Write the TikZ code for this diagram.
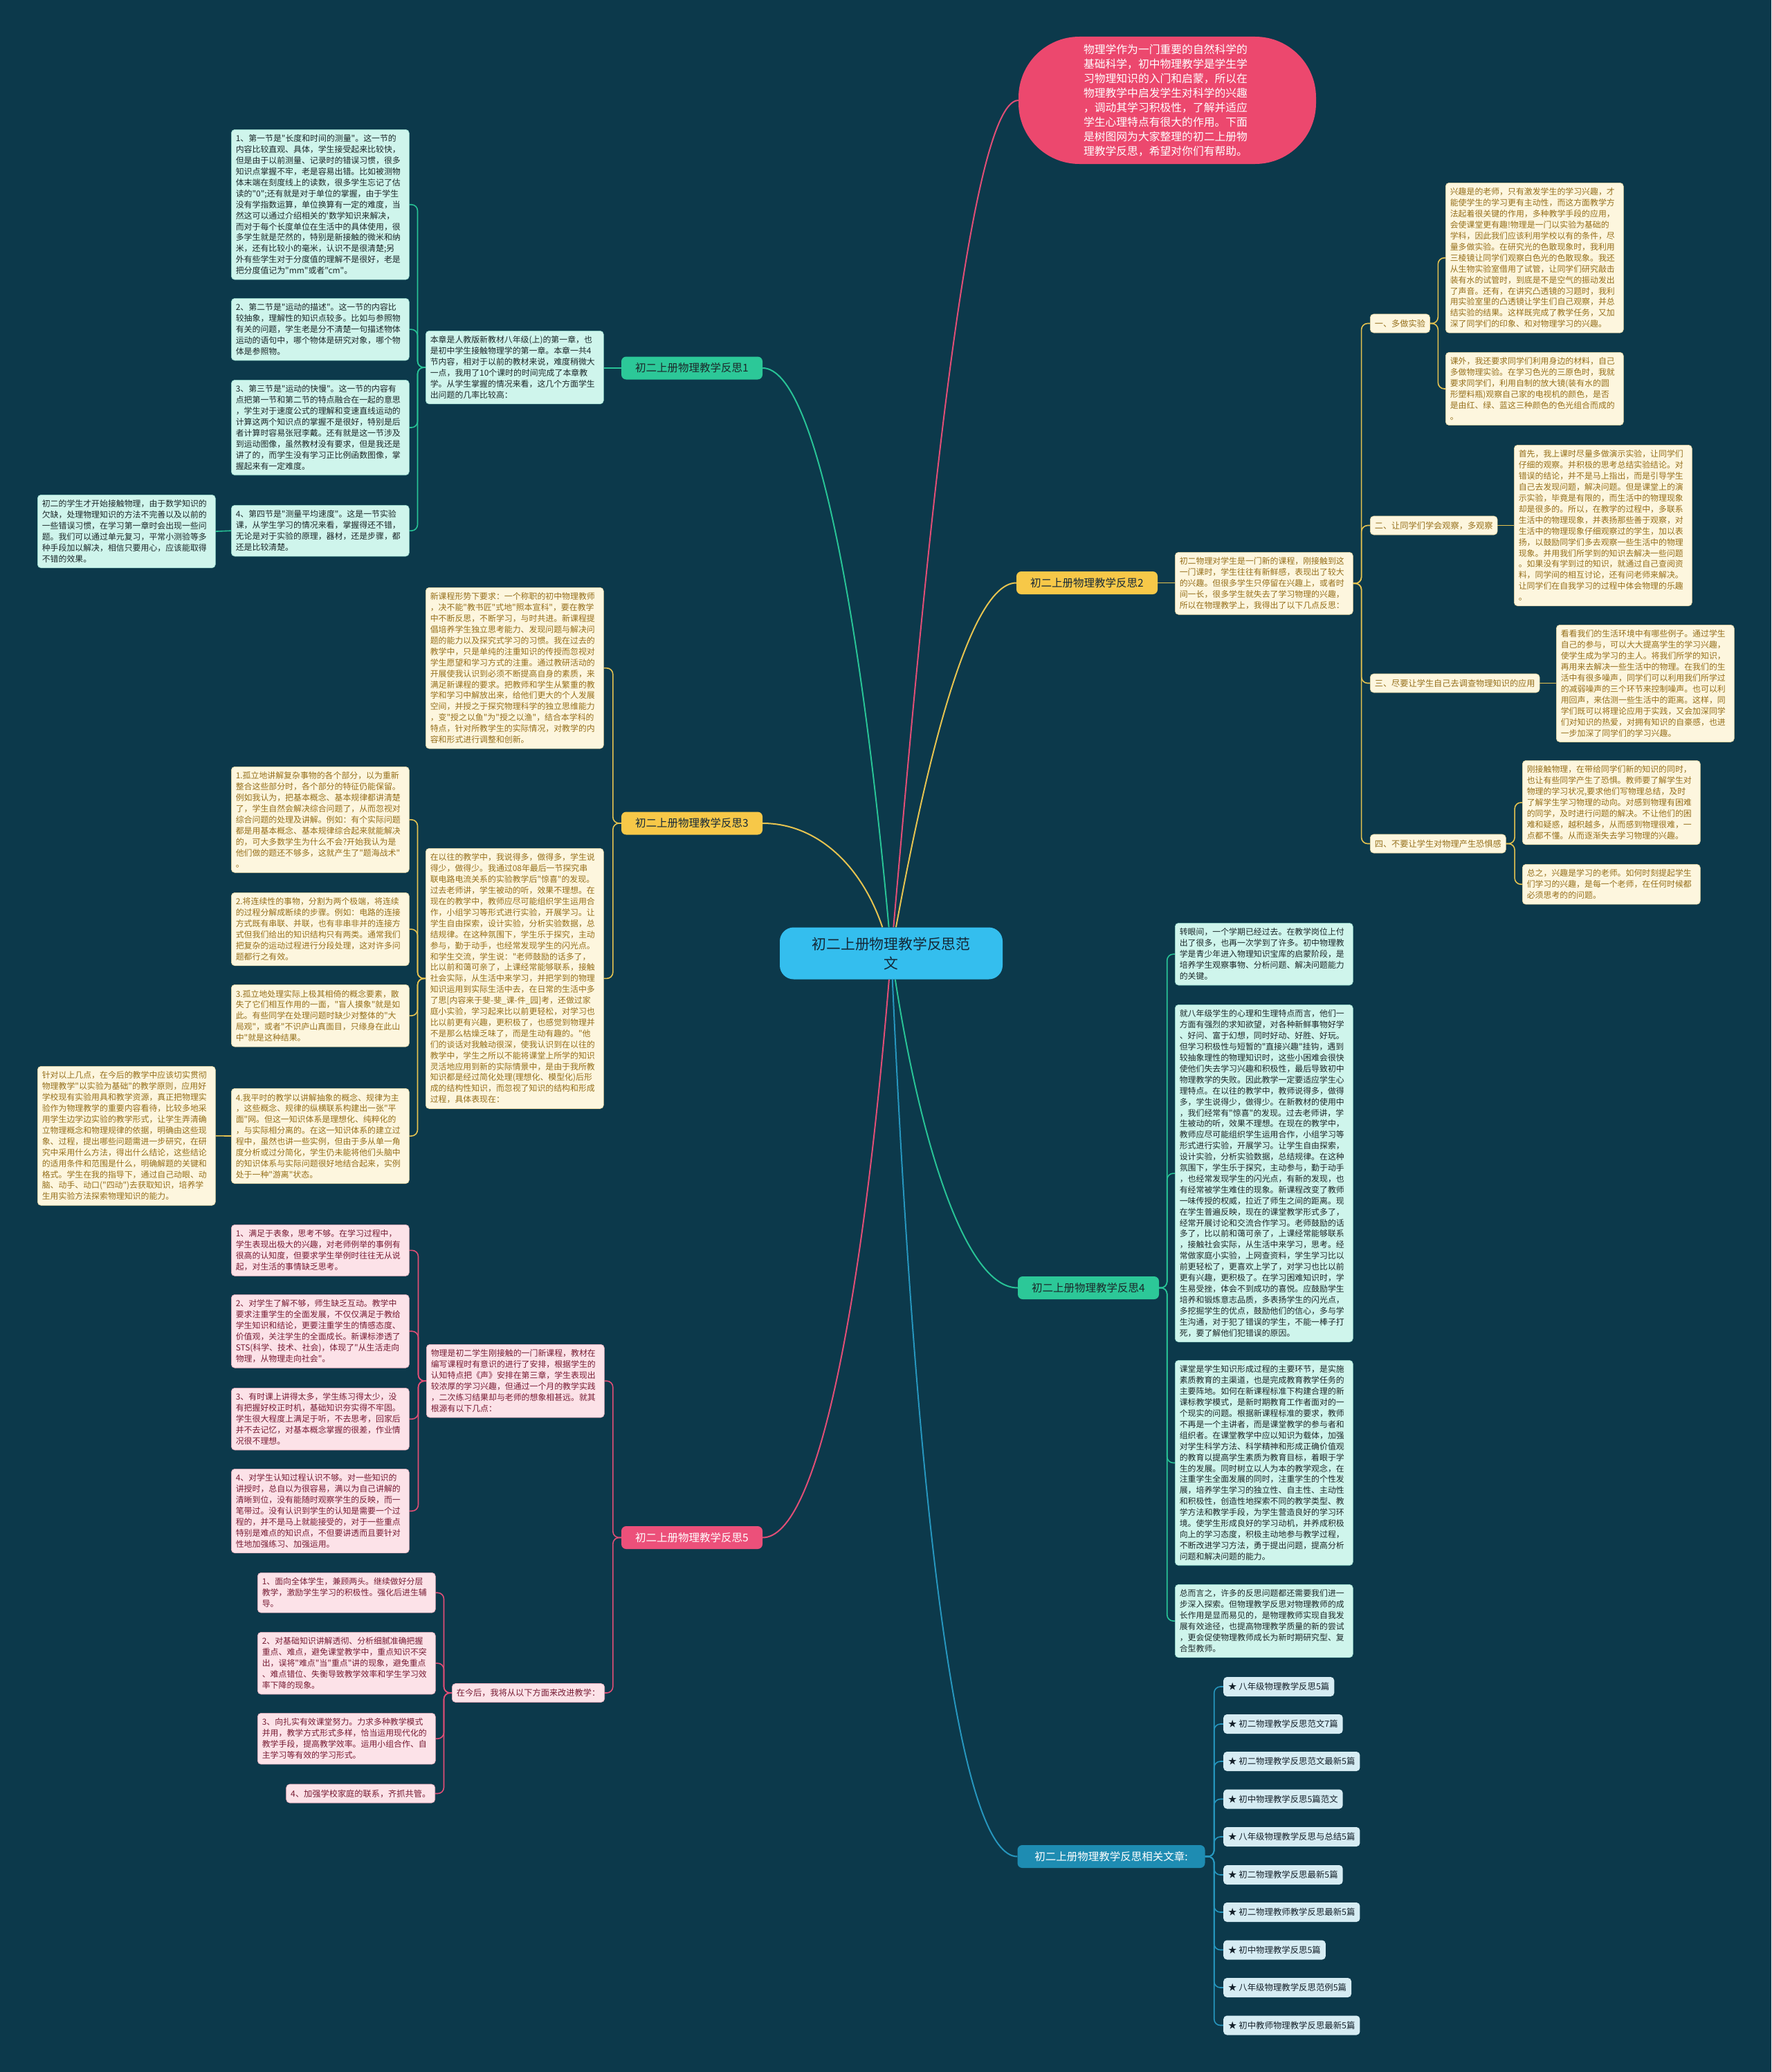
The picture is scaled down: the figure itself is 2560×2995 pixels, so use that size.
\documentclass[tikz,border=0pt]{standalone}
\usepackage{fontspec}
\setmainfont{Noto Sans CJK SC}[Ligatures=TeXOff]
\pgfdeclarelayer{bg}
\pgfdeclarelayer{edges}
\pgfsetlayers{bg,edges,main}
\definecolor{bgc}{RGB}{12,57,75}
\definecolor{mintf}{RGB}{207,245,236}
\definecolor{mintd}{RGB}{150,220,205}
\definecolor{minttx}{RGB}{28,40,42}
\definecolor{creamf}{RGB}{253,246,222}
\definecolor{creamd}{RGB}{235,215,160}
\definecolor{creamtx}{RGB}{150,112,28}
\definecolor{pinkf}{RGB}{252,226,232}
\definecolor{pinkd}{RGB}{235,170,185}
\definecolor{pinktx}{RGB}{120,28,52}
\definecolor{itemf}{RGB}{214,236,243}
\definecolor{itemtx}{RGB}{20,32,42}
\definecolor{greenl}{RGB}{40,195,150}
\definecolor{greenlab}{RGB}{44,200,152}
\definecolor{yell}{RGB}{230,195,80}
\definecolor{yellab}{RGB}{247,200,72}
\definecolor{pinkl}{RGB}{225,78,118}
\definecolor{pinklab}{RGB}{236,80,122}
\definecolor{bluel}{RGB}{38,150,190}
\definecolor{bluelab}{RGB}{30,140,178}
\definecolor{introc}{RGB}{236,72,110}
\definecolor{rootc}{RGB}{52,190,238}
\definecolor{roottx}{RGB}{20,40,55}
\begin{document}
\begin{tikzpicture}[x=1pt,y=1pt,
  tbox/.style={rectangle, rounded corners=5pt, inner xsep=6.5pt, inner ysep=7.5pt, text width=244pt, align=left, anchor=north west, line width=0.6pt, font=\fontsize{11.9}{15.9}\selectfont},
  mbox/.style={tbox, fill=mintf, draw=mintd, text=minttx},
  cbox/.style={tbox, fill=creamf, draw=creamd, text=creamtx},
  pbox/.style={tbox, fill=pinkf, draw=pinkd, text=pinktx},
  slab/.style={rectangle, rounded corners=5pt, inner xsep=6.5pt, inner ysep=0pt, minimum height=27pt, anchor=west, line width=0.6pt, font=\fontsize{12.2}{15}\selectfont},
  clab/.style={slab, fill=creamf, draw=creamd, text=creamtx},
  plab/.style={slab, fill=pinkf, draw=pinkd, text=pinktx},
  item/.style={rectangle, rounded corners=5pt, inner xsep=7pt, inner ysep=0pt, minimum height=28pt, anchor=west, fill=itemf, text=itemtx, font=\fontsize{12.4}{15}\selectfont},
  blab/.style={rectangle, rounded corners=7pt, inner xsep=10pt, inner ysep=0pt, minimum height=33pt, minimum width=204pt, font=\fontsize{15.5}{18}\selectfont},
  gl/.style={draw=greenl, line width=2pt},
  yl/.style={draw=yell, line width=2pt},
  pl/.style={draw=pinkl, line width=2pt},
  bl/.style={draw=bluel, line width=2pt},
  brk/.style={rounded corners=9pt, line width=1.6pt},
  str/.style={line width=1.6pt}
]
\begin{pgfonlayer}{bg}
\fill[bgc] (0,0) rectangle (2560,-2995);
\end{pgfonlayer}
\useasboundingbox (0,0) rectangle (2560,-2995);

% root and intro
\node[rectangle, rounded corners=20pt, fill=rootc, text=roottx, minimum width=322pt, minimum height=75pt, align=center, font=\fontsize{20.8}{28}\selectfont] (root) at (1288,-1378) {初二上册物理教学反思范\\文};
\node[rectangle, rounded corners=88pt, fill=introc, text=white, minimum width=430pt, minimum height=184pt, inner sep=0pt, text width=242pt, align=left, font=\fontsize{15.8}{20.9}\selectfont] (intro) at (1687,-145) {物理学作为一门重要的自然科学的\\基础科学，初中物理教学是学生学\\习物理知识的入门和启蒙，所以在\\物理教学中启发学生对科学的兴趣\\，调动其学习积极性，了解并适应\\学生心理特点有很大的作用。下面\\是树图网为大家整理的初二上册物\\理教学反思，希望对你们有帮助。};

% branch labels
\node[blab, fill=greenlab, text=minttx] (b1) at (1000,-532) {初二上册物理教学反思1};
\node[blab, fill=yellab, text=roottx] (b2) at (1571,-842.5) {初二上册物理教学反思2};
\node[blab, fill=yellab, text=roottx] (b3) at (1000,-1190) {初二上册物理教学反思3};
\node[blab, fill=greenlab, text=minttx] (b4) at (1573,-1861.5) {初二上册物理教学反思4};
\node[blab, fill=pinklab, text=white] (b5) at (1000,-2222.5) {初二上册物理教学反思5};
\node[blab, fill=bluelab, text=white, minimum width=271pt] (b6) at (1606,-2683.5) {初二上册物理教学反思相关文章:};

% ---------- branch 1 ----------
\node[mbox] (b1m) at (615,-478) {本章是人教版新教材八年级(上)的第一章，也\\是初中学生接触物理学的第一章。本章一共4\\节内容，相对于以前的教材来说，难度稍微大\\一点，我用了10个课时的时间完成了本章教\\学。从学生掌握的情况来看，这几个方面学生\\出问题的几率比较高：};
\node[mbox] (b1a) at (334,-187) {1、第一节是"长度和时间的测量"。这一节的\\内容比较直观、具体，学生接受起来比较快，\\但是由于以前测量、记录时的错误习惯，很多\\知识点掌握不牢，老是容易出错。比如被测物\\体末端在刻度线上的读数，很多学生忘记了估\\读的"0";还有就是对于单位的掌握，由于学生\\没有学指数运算，单位换算有一定的难度，当\\然这可以通过介绍相关的'数学知识来解决，\\而对于每个长度单位在生活中的具体使用，很\\多学生就是茫然的，特别是新接触的微米和纳\\米，还有比较小的毫米，认识不是很清楚;另\\外有些学生对于分度值的理解不是很好，老是\\把分度值记为"mm"或者"cm"。};
\node[mbox] (b1b) at (334,-431) {2、第二节是"运动的描述"。这一节的内容比\\较抽象，理解性的知识点较多。比如与参照物\\有关的问题，学生老是分不清楚一句描述物体\\运动的语句中，哪个物体是研究对象，哪个物\\体是参照物。};
\node[mbox] (b1c) at (334,-549) {3、第三节是"运动的快慢"。这一节的内容有\\点把第一节和第二节的特点融合在一起的意思\\，学生对于速度公式的理解和变速直线运动的\\计算这两个知识点的掌握不是很好，特别是后\\者计算时容易张冠李戴。还有就是这一节涉及\\到运动图像，虽然教材没有要求，但是我还是\\讲了的，而学生没有学习正比例函数图像，掌\\握起来有一定难度。};
\node[mbox] (b1d) at (334,-730) {4、第四节是"测量平均速度"。这是一节实验\\课，从学生学习的情况来看，掌握得还不错，\\无论是对于实验的原理，器材，还是步骤，都\\还是比较清楚。};
\node[mbox] (fl1) at (54,-715) {初二的学生才开始接触物理，由于数学知识的\\欠缺，处理物理知识的方法不完善以及以前的\\一些错误习惯，在学习第一章时会出现一些问\\题。我们可以通过单元复习，平常小测验等多\\种手段加以解决，相信只要用心，应该能取得\\不错的效果。};

% ---------- branch 2 ----------
\node[cbox] (b2m) at (1698,-798) {初二物理对学生是一门新的课程，刚接触到这\\一门课时，学生往往有新鲜感，表现出了较大\\的兴趣。但很多学生只停留在兴趣上，或者时\\间一长，很多学生就失去了学习物理的兴趣，\\所以在物理教学上，我得出了以下几点反思：};
\node[clab] (s1) at (1980,-467.5) {一、多做实验};
\node[clab] (s2) at (1980,-759.5) {二、让同学们学会观察，多观察};
\node[clab] (s3) at (1980,-987.5) {三、尽要让学生自己去调查物理知识的应用};
\node[clab] (s4) at (1980,-1219.5) {四、不要让学生对物理产生恐惧感};
\node[cbox] (r1) at (2089,-264) {兴趣是的老师，只有激发学生的学习兴趣，才\\能使学生的学习更有主动性，而这方面教学方\\法起着很关键的作用，多种教学手段的应用，\\会使课堂更有趣!物理是一门以实验为基础的\\学科，因此我们应该利用学校以有的条件，尽\\量多做实验。在研究光的色散现象时，我利用\\三棱镜让同学们观察白色光的色散现象。我还\\从生物实验室借用了试管，让同学们研究敲击\\装有水的试管时，到底是不是空气的振动发出\\了声音。还有，在讲究凸透镜的习题时，我利\\用实验室里的凸透镜让学生们自己观察，并总\\结实验的结果。这样既完成了教学任务，又加\\深了同学们的印象、和对物理学习的兴趣。};
\node[cbox] (r2) at (2089,-509) {课外，我还要求同学们利用身边的材料，自己\\多做物理实验。在学习色光的三原色时，我就\\要求同学们，利用自制的放大镜(装有水的圆\\形塑料瓶)观察自己家的电视机的颜色，是否\\是由红、绿、蓝这三种颜色的色光组合而成的\\。};
\node[cbox] (r3) at (2188,-643) {首先，我上课时尽量多做演示实验，让同学们\\仔细的观察。并积极的思考总结实验结论。对\\错误的结论，并不是马上指出，而是引导学生\\自己去发现问题，解决问题。但是课堂上的演\\示实验，毕竟是有限的，而生活中的物理现象\\却是很多的。所以，在教学的过程中，多联系\\生活中的物理现象，并表扬那些善于观察，对\\生活中的物理现象仔细观察过的学生，加以表\\扬，以鼓励同学们多去观察一些生活中的物理\\现象。并用我们所学到的知识去解决一些问题\\。如果没有学到过的知识，就通过自己查阅资\\料，同学间的相互讨论，还有问老师来解决。\\让同学们在自我学习的过程中体会物理的乐趣\\。};
\node[cbox] (r4) at (2249,-903) {看看我们的生活环境中有哪些例子。通过学生\\自己的参与，可以大大提高学生的学习兴趣，\\使学生成为学习的主人。将我们所学的知识，\\再用来去解决一些生活中的物理。在我们的生\\活中有很多噪声，同学们可以利用我们所学过\\的减弱噪声的三个环节来控制噪声。也可以利\\用回声，来估测一些生活中的距离。这样，同\\学们既可以将理论应用于实践，又会加深同学\\们对知识的热爱，对拥有知识的自豪感，也进\\一步加深了同学们的学习兴趣。};
\node[cbox] (r5) at (2200,-1099) {刚接触物理，在带给同学们新的知识的同时，\\也让有些同学产生了恐惧。教师要了解学生对\\物理的学习状况,要求他们写物理总结，及时\\了解学生学习物理的动向。对感到物理有困难\\的同学，及时进行问题的解决。不让他们的困\\难和疑惑，越积越多，从而感到物理很难，一\\点都不懂。从而逐渐失去学习物理的兴趣。};
\node[cbox] (r6) at (2200,-1249) {总之，兴趣是学习的老师。如何时刻提起学生\\们学习的兴趣，是每一个老师，在任何时候都\\必须思考的的问题。};

% ---------- branch 3 ----------
\node[cbox] (b3t) at (615,-849) {新课程形势下要求：一个称职的初中物理教师\\，决不能"教书匠"式地"照本宣科"，要在教学\\中不断反思，不断学习，与时共进。新课程提\\倡培养学生独立思考能力、发现问题与解决问\\题的能力以及探究式学习的习惯。我在过去的\\教学中，只是单纯的注重知识的传授而忽视对\\学生愿望和学习方式的注重。通过教研活动的\\开展使我认识到必须不断提高自身的素质，来\\满足新课程的要求。把教师和学生从繁重的教\\学和学习中解放出来，给他们更大的个人发展\\空间，并授之于探究物理科学的独立思维能力\\，变"授之以鱼"为"授之以渔"，结合本学科的\\特点，针对所教学生的实际情况，对教学的内\\容和形式进行调整和创新。};
\node[cbox] (b3m) at (615,-1226) {在以往的教学中，我说得多，做得多，学生说\\得少，做得少。我通过08年最后一节探究串\\联电路电流关系的实验教学后"惊喜"的发现。\\过去老师讲，学生被动的听，效果不理想。在\\现在的教学中，教师应尽可能组织学生运用合\\作，小组学习等形式进行实验，开展学习。让\\学生自由探索，设计实验，分析实验数据，总\\结规律。在这种氛围下，学生乐于探究，主动\\参与，勤于动手，也经常发现学生的闪光点。\\和学生交流，学生说："老师鼓励的话多了，\\比以前和蔼可亲了，上课经常能够联系，接触\\社会实际，从生活中来学习，并把学到的物理\\知识运用到实际生活中去，在日常的生活中多\\了思{[}内容来于斐-斐\_课-件\_园{]}考，还做过家\\庭小实验，学习起来比以前更轻松，对学习也\\比以前更有兴趣，更积极了，也感觉到物理并\\不是那么枯燥乏味了，而是生动有趣的。"他\\们的谈话对我触动很深，使我认识到在以往的\\教学中，学生之所以不能将课堂上所学的知识\\灵活地应用到新的实际情景中，是由于我所教\\知识都是经过简化处理(理想化、模型化)后形\\成的结构性知识，而忽视了知识的结构和形成\\过程，具体表现在：};
\node[cbox] (b3a) at (334,-1108) {1.孤立地讲解复杂事物的各个部分，以为重新\\整合这些部分时，各个部分的特征仍能保留。\\例如我认为，把基本概念、基本规律都讲清楚\\了，学生自然会解决综合问题了，从而忽视对\\综合问题的处理及讲解。例如：有个实际问题\\都是用基本概念、基本规律综合起来就能解决\\的，可大多数学生为什么不会?开始我认为是\\他们做的题还不够多，这就产生了"题海战术"\\。};
\node[cbox] (b3b) at (334,-1290) {2.将连续性的事物，分割为两个极端，将连续\\的过程分解成断续的步骤。例如：电路的连接\\方式既有串联、并联，也有非串非并的连接方\\式但我们给出的知识结构只有两类。通常我们\\把复杂的运动过程进行分段处理，这对许多问\\题都行之有效。};
\node[cbox] (b3c) at (334,-1423) {3.孤立地处理实际上极其相倚的概念要素，散\\失了它们相互作用的一面，"盲人摸象"就是如\\此。有些同学在处理问题时缺少对整体的"大\\局观"，或者"不识庐山真面目，只缘身在此山\\中"就是这种结果。};
\node[cbox] (b3d) at (334,-1573) {4.我平时的教学以讲解抽象的概念、规律为主\\，这些概念、规律的纵横联系构建出一张"平\\面"网。但这一知识体系是理想化、纯粹化的\\，与实际相分离的。在这一知识体系的建立过\\程中，虽然也讲一些实例，但由于多从单一角\\度分析或过分简化，学生仍未能将他们头脑中\\的知识体系与实际问题很好地结合起来，实例\\处于一种"游离"状态。};
\node[cbox] (fl2) at (54,-1541) {针对以上几点，在今后的教学中应该切实贯彻\\物理教学"以实验为基础"的教学原则，应用好\\学校现有实验用具和教学资源，真正把物理实\\验作为物理教学的重要内容看待，比较多地采\\用学生边学边实验的教学形式，让学生弄清确\\立物理概念和物理规律的依据，明确由这些现\\象、过程，提出哪些问题需进一步研究，在研\\究中采用什么方法，得出什么结论，这些结论\\的适用条件和范围是什么，明确解题的关键和\\格式。学生在我的指导下，通过自己动眼、动\\脑、动手、动口("四动")去获取知识，培养学\\生用实验方法探索物理知识的能力。};

% ---------- branch 4 ----------
\node[mbox] (b4a) at (1698,-1334) {转眼间，一个学期已经过去。在教学岗位上付\\出了很多，也再一次学到了许多。初中物理教\\学是青少年进入物理知识宝库的启蒙阶段，是\\培养学生观察事物、分析问题、解决问题能力\\的关键。};
\node[mbox] (b4b) at (1698,-1452) {就八年级学生的心理和生理特点而言，他们一\\方面有强烈的求知欲望，对各种新鲜事物好学\\、好问、富于幻想，同时好动、好胜、好玩。\\但学习积极性与短暂的"直接兴趣"挂钩，遇到\\较抽象理性的物理知识时，这些小困难会很快\\使他们失去学习兴趣和积极性，最后导致初中\\物理教学的失败。因此教学一定要适应学生心\\理特点。在以往的教学中，教师说得多，做得\\多，学生说得少，做得少。在新教材的使用中\\，我们经常有"惊喜"的发现。过去老师讲，学\\生被动的听，效果不理想。在现在的教学中，\\教师应尽可能组织学生运用合作，小组学习等\\形式进行实验，开展学习。让学生自由探索，\\设计实验，分析实验数据，总结规律。在这种\\氛围下，学生乐于探究，主动参与，勤于动手\\，也经常发现学生的闪光点，有新的发现，也\\有经常被学生难住的现象。新课程改变了教师\\一味传授的权威，拉近了师生之间的距离。现\\在学生普遍反映，现在的课堂教学形式多了，\\经常开展讨论和交流合作学习。老师鼓励的话\\多了，比以前和蔼可亲了，上课经常能够联系\\，接触社会实际，从生活中来学习，思考。经\\常做家庭小实验，上网查资料，学生学习比以\\前更轻松了，更喜欢上学了，对学习也比以前\\更有兴趣，更积极了。在学习困难知识时，学\\生易受挫，体会不到成功的喜悦。应鼓励学生\\培养和锻炼意志品质，多表扬学生的闪光点，\\多挖掘学生的优点，鼓励他们的信心，多与学\\生沟通，对于犯了错误的学生，不能一棒子打\\死，要了解他们犯错误的原因。};
\node[mbox] (b4c) at (1698,-1966) {课堂是学生知识形成过程的主要环节，是实施\\素质教育的主渠道，也是完成教育教学任务的\\主要阵地。如何在新课程标准下构建合理的新\\课标教学模式，是新时期教育工作者面对的一\\个现实的问题。根据新课程标准的要求，教师\\不再是一个主讲者，而是课堂教学的参与者和\\组织者。在课堂教学中应以知识为载体，加强\\对学生科学方法、科学精神和形成正确价值观\\的教育以提高学生素质为教育目标，着眼于学\\生的发展。同时树立以人为本的教学观念，在\\注重学生全面发展的同时，注重学生的个性发\\展，培养学生学习的独立性、自主性、主动性\\和积极性，创造性地探索不同的教学类型、教\\学方法和教学手段，为学生营造良好的学习环\\境。使学生形成良好的学习动机，并养成积极\\向上的学习态度，积极主动地参与教学过程，\\不断改进学习方法，勇于提出问题，提高分析\\问题和解决问题的能力。};
\node[mbox] (b4d) at (1698,-2290) {总而言之，许多的反思问题都还需要我们进一\\步深入探索。但物理教学反思对物理教师的成\\长作用是显而易见的，是物理教师实现自我发\\展有效途径，也提高物理教学质量的新的尝试\\，更会促使物理教师成长为新时期研究型、复\\合型教师。};

% ---------- branch 5 ----------
\node[pbox] (b5m) at (616,-1943) {物理是初二学生刚接触的一门新课程，教材在\\编写课程时有意识的进行了安排，根据学生的\\认知特点把《声》安排在第三章，学生表现出\\较浓厚的学习兴趣，但通过一个月的教学实践\\，二次练习结果却与老师的想象相甚远。就其\\根源有以下几点：};
\node[pbox] (b5a) at (334,-1770) {1、满足于表象，思考不够。在学习过程中，\\学生表现出极大的兴趣，对老师例举的事例有\\很高的认知度，但要求学生举例时往往无从说\\起，对生活的事情缺乏思考。};
\node[pbox] (b5b) at (334,-1871) {2、对学生了解不够，师生缺乏互动。教学中\\要求注重学生的全面发展，不仅仅满足于教给\\学生知识和结论，更要注重学生的情感态度、\\价值观，关注学生的全面成长。新课标渗透了\\STS(科学、技术、社会)，体现了"从生活走向\\物理，从物理走向社会"。};
\node[pbox] (b5c) at (334,-2006) {3、有时课上讲得太多，学生练习得太少，没\\有把握好校正时机，基础知识夯实得不牢固。\\学生很大程度上满足于听，不去思考，回家后\\并不去记忆，对基本概念掌握的很差，作业情\\况很不理想。};
\node[pbox] (b5d) at (334,-2123) {4、对学生认知过程认识不够。对一些知识的\\讲授时，总自以为很容易，满以为自己讲解的\\清晰到位，没有能随时观察学生的反映，而一\\笔带过。没有认识到学生的认知是需要一个过\\程的，并不是马上就能接受的，对于一些重点\\特别是难点的知识点，不但要讲透而且要针对\\性地加强练习、加强运用。};
\node[plab, anchor=east] (b5g) at (874,-2447) {在今后，我将从以下方面来改进教学：};
\node[pbox] (g1) at (372,-2273) {1、面向全体学生，兼顾两头。继续做好分层\\教学，激励学生学习的积极性。强化后进生辅\\导。};
\node[pbox] (g2) at (372,-2359) {2、对基础知识讲解透彻、分析细腻准确把握\\重点、难点，避免课堂教学中，重点知识不突\\出，误将"难点"当"重点"讲的现象，避免重点\\、难点错位、失衡导致教学效率和学生学习效\\率下降的现象。};
\node[pbox] (g3) at (372,-2476) {3、向扎实有效课堂努力。力求多种教学模式\\并用，教学方式形式多样，恰当运用现代化的\\教学手段，提高教学效率。运用小组合作、自\\主学习等有效的学习形式。};
\node[plab, anchor=east] (g4) at (629,-2592.5) {4、加强学校家庭的联系，齐抓共管。};

% ---------- branch 6 ----------
\node[item] (i1) at (1768,-2438) {★ 八年级物理教学反思5篇};
\node[item] (i2) at (1768,-2492) {★ 初二物理教学反思范文7篇};
\node[item] (i3) at (1768,-2546) {★ 初二物理教学反思范文最新5篇};
\node[item] (i4) at (1768,-2600.5) {★ 初中物理教学反思5篇范文};
\node[item] (i5) at (1768,-2655) {★ 八年级物理教学反思与总结5篇};
\node[item] (i6) at (1768,-2710) {★ 初二物理教学反思最新5篇};
\node[item] (i7) at (1768,-2764) {★ 初二物理教师教学反思最新5篇};
\node[item] (i8) at (1768,-2818.5) {★ 初中物理教学反思5篇};
\node[item] (i9) at (1768,-2873) {★ 八年级物理教学反思范例5篇};
\node[item] (i10) at (1768,-2927.5) {★ 初中教师物理教学反思最新5篇};

% ---------- connectors ----------
\begin{pgfonlayer}{edges}
\draw[pl] (root) .. controls (1330,-900) and (1395,-145) .. (intro.west);
\draw[yl] (root) .. controls (1330,-1150) and (1395,-842.5) .. (b2.west);
\draw[gl] (root) .. controls (1330,-1650) and (1395,-1861.5) .. (b4.west);
\draw[bl] (root) .. controls (1330,-2300) and (1395,-2683.5) .. (b6.west);
\draw[gl] (root) .. controls (1245,-900) and (1180,-532) .. (b1.east);
\draw[yl] (root) .. controls (1245,-1250) and (1180,-1190) .. (b3.east);
\draw[pl] (root) .. controls (1245,-1900) and (1180,-2222.5) .. (b5.east);

% branch 1
\draw[gl,str] (b1.west) -- (b1.west -| b1m.east);
\foreach \c in {b1a,b1b,b1c,b1d} \draw[gl,brk] (b1m.west) -- ++(-11.5,0) |- (\c.east);
\draw[gl,str] (b1d.west) -- (fl1.east);

% branch 2
\draw[yl,str] (b2.east) -- (b2.east -| b2m.west);
\foreach \c in {s1,s2,s3,s4} \draw[yl,brk] (b2m.east) -- ++(12,0) |- (\c.west);
\foreach \c in {r1,r2} \draw[yl,brk] (s1.east) -- ++(11.5,0) |- (\c.west);
\draw[yl,str] (s2.east) -- (s2.east -| r3.west);
\draw[yl,str] (s3.east) -- (s3.east -| r4.west);
\foreach \c in {r5,r6} \draw[yl,brk] (s4.east) -- ++(12.5,0) |- (\c.west);

% branch 3
\foreach \c in {b3t,b3m} \draw[yl,brk] (b3.west) -- ++(-12,0) |- (\c.east);
\foreach \c in {b3a,b3b,b3c,b3d} \draw[yl,brk] (b3m.west) -- ++(-11.5,0) |- (\c.east);
\draw[yl,str] (b3d.west) -- (fl2.east);

% branch 4
\foreach \c in {b4a,b4b,b4c,b4d} \draw[gl,brk] (b4.east) -- ++(11.5,0) |- (\c.west);

% branch 5
\foreach \c in {b5m,b5g} \draw[pl,brk] (b5.west) -- ++(-12,0) |- (\c.east);
\foreach \c in {b5a,b5b,b5c,b5d} \draw[pl,brk] (b5m.west) -- ++(-11.5,0) |- (\c.east);
\foreach \c in {g1,g2,g3,g4} \draw[pl,brk] (b5g.west) -- ++(-11.5,0) |- (\c.east);

% branch 6
\foreach \c in {i1,i2,i3,i4,i5,i6,i7,i8,i9,i10} \draw[bl,brk] (b6.east) -- ++(13,0) |- (\c.west);
\end{pgfonlayer}
\end{tikzpicture}
\end{document}
